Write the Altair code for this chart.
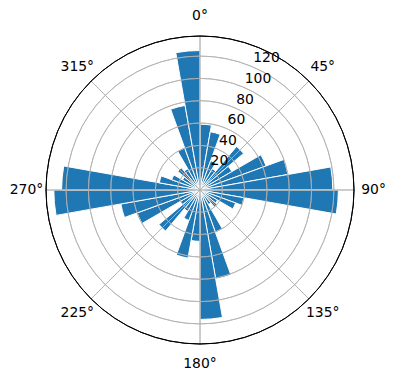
import math
import altair as alt
import pandas as pd

# ---- data ----
bin_start = [0, 10, 20, 30, 40, 50, 60, 70, 80, 90, 100, 110, 120, 130, 140, 150, 160, 170,
             180, 190, 200, 210, 220, 230, 240, 250, 260, 270, 280, 290, 300, 310, 320, 330, 340, 350]
bin_end = [10, 20, 30, 40, 50, 60, 70, 80, 90, 100, 110, 120, 130, 140, 150, 160, 170, 180,
           190, 200, 210, 220, 230, 240, 250, 260, 270, 280, 290, 300, 310, 320, 330, 340, 350, 360]
counts = [59, 53, 28, 22, 51, 33, 63, 80, 119, 124, 40, 34, 18, 20, 15, 40, 81, 116,
          46, 62, 29, 22, 48, 20, 60, 72, 131, 124, 37, 27, 18, 26, 22, 40, 77, 125]

ring_values = [20, 40, 60, 80, 100, 120]
ring_labels = ["20", "40", "60", "80", "100", "120"]
spoke_angles = [0, 45, 90, 135, 180, 225, 270, 315]
spoke_labels = ["0°", "45°", "90°", "135°", "180°", "225°", "270°", "315°"]
r_max = 138
theta_label_r = 155.5
rlabel_angle = 22.5

CX, CY = 200, 190
FONT = "DejaVu Sans"

theta_scale = alt.Scale(domain=[0, 360], range=[0, 2 * math.pi])
r_scale = alt.Scale(type="linear", domain=[0, r_max], range=[0, 154], zero=True)

bars_df = pd.DataFrame({"start": bin_start, "end": bin_end, "count": counts})
rings_df = pd.DataFrame({"r": ring_values, "label": ring_labels,
                         "a": [rlabel_angle] * len(ring_values)})
spokes_df = pd.DataFrame({"a": spoke_angles, "label": spoke_labels,
                          "r": [r_max] * len(spoke_angles),
                          "lr": [theta_label_r] * len(spoke_angles)})
outer_df = pd.DataFrame({"r": [r_max]})

pos = dict(x=alt.value(CX), y=alt.value(CY))

bars = alt.Chart(bars_df).mark_arc(color="#1f77b4", stroke="white", strokeWidth=1).encode(
    theta=alt.Theta("start:Q", scale=theta_scale, stack=None),
    theta2="end:Q",
    radius=alt.Radius("count:Q", scale=r_scale),
    radius2=alt.value(0),
    **pos,
)

rings = alt.Chart(rings_df).mark_arc(filled=False, stroke="#b0b0b0", strokeWidth=0.8).encode(
    theta=alt.value(0),
    theta2=alt.value(2 * math.pi),
    radius=alt.Radius("r:Q", scale=r_scale),
    radius2="r:Q",
    **pos,
)

spokes = alt.Chart(spokes_df).mark_arc(filled=False, stroke="#b0b0b0", strokeWidth=0.8).encode(
    theta=alt.Theta("a:Q", scale=theta_scale, stack=None),
    theta2="a:Q",
    radius=alt.Radius("r:Q", scale=r_scale),
    radius2=alt.value(0),
    **pos,
)

outer = alt.Chart(outer_df).mark_arc(filled=False, stroke="black", strokeWidth=1).encode(
    theta=alt.value(0),
    theta2=alt.value(2 * math.pi),
    radius=alt.Radius("r:Q", scale=r_scale),
    radius2="r:Q",
    **pos,
)

theta_labels = alt.Chart(spokes_df).mark_text(
    font=FONT, fontSize=13.9, align="center", baseline="middle", color="black"
).encode(
    theta=alt.Theta("a:Q", scale=theta_scale, stack=None),
    radius=alt.Radius("lr:Q", scale=r_scale),
    text="label:N",
    **pos,
)

r_labels = alt.Chart(rings_df).mark_text(
    font=FONT, fontSize=13.9, align="left", baseline="bottom", dx=2, dy=-1, color="black"
).encode(
    theta=alt.Theta("a:Q", scale=theta_scale, stack=None),
    radius=alt.Radius("r:Q", scale=r_scale),
    text="label:N",
    **pos,
)

chart = alt.layer(bars, rings, spokes, outer, theta_labels, r_labels).properties(
    width=396, height=380, autosize="none", padding=0, background="white"
).configure_view(stroke=None)

chart.save("out.html", embed_options={"renderer": "svg", "actions": False})
